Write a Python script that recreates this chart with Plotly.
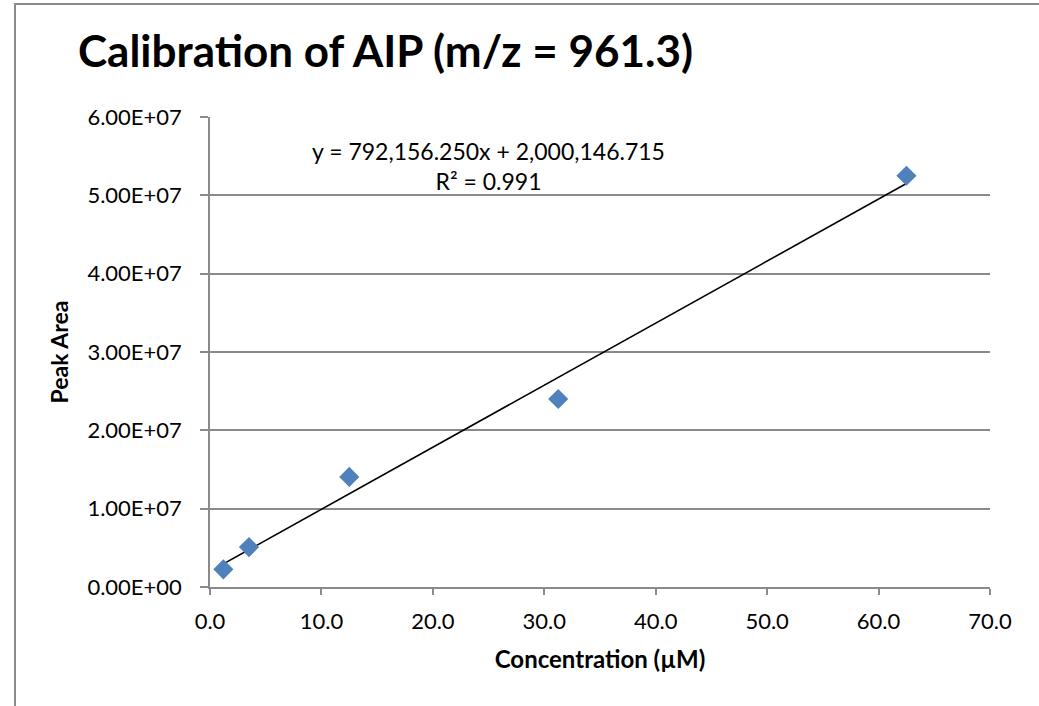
import plotly.graph_objects as go

# Calibration standards: concentration (µM) vs. measured peak area
concentration = [1.2, 3.5, 12.5, 31.25, 62.5]
peak_area = [2.26e6, 5.1e6, 1.405e7, 2.40e7, 5.25e7]

# Linear fit reported for the calibration
slope = 792156.250
intercept = 2000146.715
r_squared = 0.991

y_tick_values = [0, 1e7, 2e7, 3e7, 4e7, 5e7, 6e7]
y_tick_labels = ["0.00E+00", "1.00E+07", "2.00E+07", "3.00E+07",
                 "4.00E+07", "5.00E+07", "6.00E+07"]
x_tick_values = [0, 10, 20, 30, 40, 50, 60, 70]

FONT = "Lato"
GRID = "#8a8a8a"

fit_x = [min(concentration), max(concentration)]
fit_y = [slope * x + intercept for x in fit_x]

fig = go.Figure()
fig.add_trace(go.Scatter(
    x=fit_x, y=fit_y, mode="lines",
    line=dict(color="black", width=1.6),
    hoverinfo="skip", showlegend=False,
))
fig.add_trace(go.Scatter(
    x=concentration, y=peak_area, mode="markers",
    marker=dict(symbol="diamond", size=15.5, color="#4F81BD",
                line=dict(width=0)),
    showlegend=False,
))

fig.add_annotation(
    x=0.357, y=0.8957, xref="paper", yref="paper",
    text=f"y = {slope:,.3f}x + {intercept:,.3f}<br>R² = {r_squared:.3f}",
    showarrow=False, align="center", xanchor="center", yanchor="middle",
    font=dict(family=FONT, size=23, color="black"),
)

# Outer chart frame (left and top edges)
fig.add_shape(type="path", xref="paper", yref="paper",
              path="M -0.25 -0.3 L -0.25 1.2404 L 1.1 1.2404",
              line=dict(color="#8a8a8a", width=2))

fig.update_layout(
    width=1039, height=706,
    margin=dict(l=210, r=49, t=117, b=119),
    paper_bgcolor="white", plot_bgcolor="white",
    title=dict(text="<b>Calibration of AIP (m/z = 961.3)</b>",
               x=78 / 1039, xanchor="left", y=1 - 52 / 706, yanchor="middle",
               font=dict(family=FONT, size=44, color="black")),
    xaxis=dict(
        range=[0, 70], tickvals=x_tick_values, tickformat=".1f",
        showgrid=False, zeroline=False,
        showline=True, linecolor=GRID, linewidth=1.5,
        ticks="outside", ticklen=6, tickcolor=GRID, tickwidth=1.5,
        ticklabelstandoff=8,
        tickfont=dict(family=FONT, size=22, color="black"),
        title=dict(text="<b>Concentration (µM)</b>", standoff=18,
                   font=dict(family=FONT, size=24, color="black")),
    ),
    yaxis=dict(
        range=[0, 6e7], tickvals=y_tick_values, ticktext=y_tick_labels,
        showgrid=True, gridcolor=GRID, gridwidth=1.5, zeroline=False,
        showline=True, linecolor=GRID, linewidth=1.5,
        ticks="outside", ticklen=8, tickcolor=GRID, tickwidth=1.5,
        ticklabelstandoff=14,
        tickfont=dict(family=FONT, size=22, color="black"),
        title=dict(text="<b>Peak Area</b>", standoff=12,
                   font=dict(family=FONT, size=23, color="black")),
    ),
)

fig.write_html("out.html")
